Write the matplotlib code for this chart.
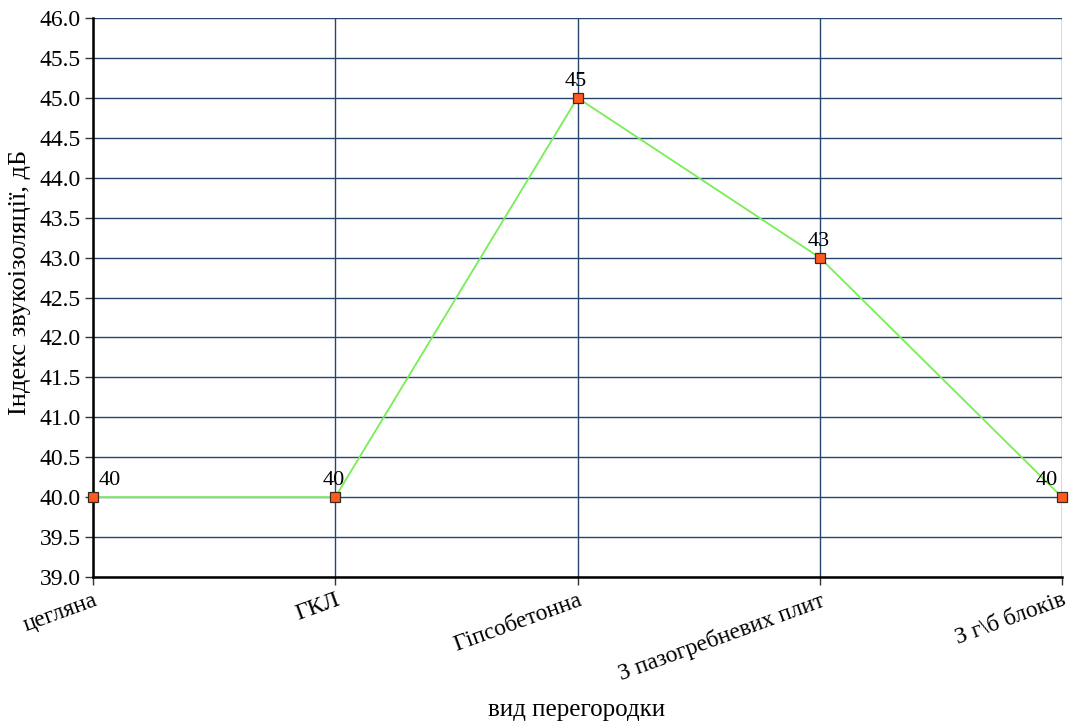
import matplotlib.pyplot as plt
import numpy as np

# Індекс звукоізоляції для різних видів перегородок
види = ['цегляна', 'ГКЛ', 'Гіпсобетонна', 'З пазогребневих плит', 'З г\\б блоків']
індекс = [40, 40, 45, 43, 40]

plt.rcParams['font.family'] = 'serif'
plt.rcParams['font.serif'] = ['Liberation Serif', 'DejaVu Serif']

fig = plt.figure(figsize=(10.71, 7.24), dpi=100)
ax = fig.add_axes([93 / 1071, 1 - 577 / 724, (1062 - 93) / 1071, (577 - 18) / 724])

x = np.arange(len(види))
ax.plot(x, індекс, color='#77ee55', linewidth=1.3, zorder=3, clip_on=False)
ax.plot(x, індекс, linestyle='none', marker='s', markersize=7,
        markerfacecolor='#ff5a1f', markeredgecolor='#3a2a20', markeredgewidth=0.9,
        zorder=4, clip_on=False)

# підписи значень над точками
for i, v in enumerate(індекс):
    if i == 0:
        ax.annotate(str(v), (x[i], v), xytext=(4, 5), textcoords='offset points',
                    ha='left', va='bottom', fontsize=16)
    elif i == len(види) - 1:
        ax.annotate(str(v), (x[i], v), xytext=(-3, 5), textcoords='offset points',
                    ha='right', va='bottom', fontsize=16)
    else:
        ax.annotate(str(v), (x[i], v), xytext=(-1, 5), textcoords='offset points',
                    ha='center', va='bottom', fontsize=16)

ax.set_xlim(0, len(види) - 1)
ax.set_ylim(39, 46)
yt = np.arange(39, 46.01, 0.5)
ax.set_yticks(yt)
ax.set_yticklabels([f'{t:.1f}' for t in yt], fontsize=17)
ax.set_xticks(x)
ax.set_xticklabels(види, rotation=20, ha='right', rotation_mode='anchor', fontsize=17)

ax.grid(True, color='#27466b', linewidth=1.0)
ax.set_axisbelow(True)
ax.spines['top'].set_visible(False)
ax.spines['right'].set_visible(False)
ax.spines['left'].set_linewidth(1.8)
ax.spines['bottom'].set_linewidth(1.8)
ax.tick_params(axis='both', length=6, width=1, color='#333333', pad=3)

fig.text(577 / 1071, 1 - 710 / 724, 'вид перегородки', fontsize=18, ha='center', va='center')
fig.text(20 / 1071, 1 - 282 / 724, 'Індекс звукоізоляції, дБ', fontsize=19,
         rotation=90, ha='center', va='center')

fig.savefig('out.png', dpi=100)
